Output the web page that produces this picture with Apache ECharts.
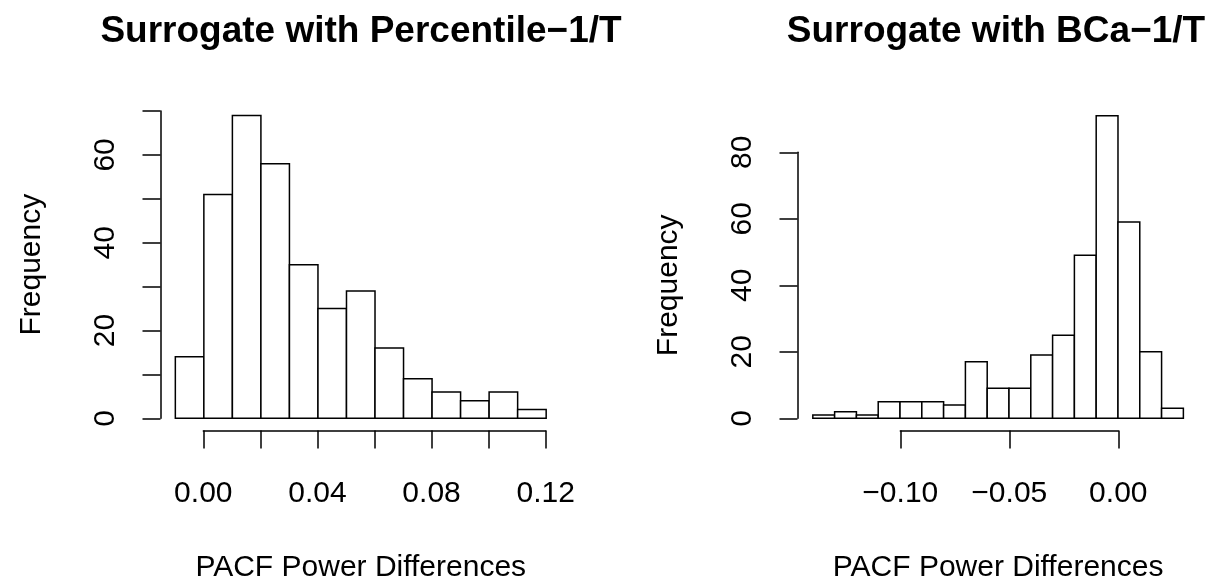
<!DOCTYPE html>
<html>
<head>
<meta charset="utf-8">
<script src="https://cdn.jsdelivr.net/npm/echarts@6/dist/echarts.min.js"></script>
<style>
  html, body { margin: 0; padding: 0; background: #fff; }
  #chart { width: 1216px; height: 583px; }
</style>
</head>
<body>
<div id="chart"></div>
<script>
// 直方图数据 (bin 边界 + 频数)
const leftTitle = 'Surrogate with Percentile\u22121/T';
const rightTitle = 'Surrogate with BCa\u22121/T';
const xName = 'PACF Power Differences';
const yName = 'Frequency';

const leftBreaks = [-0.01, 0.00, 0.01, 0.02, 0.03, 0.04, 0.05, 0.06, 0.07, 0.08, 0.09, 0.10, 0.11, 0.12];
const leftCounts = [14, 51, 69, 58, 35, 25, 29, 16, 9, 6, 4, 6, 2];

const rightBreaks = [-0.14, -0.13, -0.12, -0.11, -0.10, -0.09, -0.08, -0.07, -0.06, -0.05,
  -0.04, -0.03, -0.02, -0.01, 0.00, 0.01, 0.02, 0.03];
const rightCounts = [1, 2, 1, 5, 5, 5, 4, 17, 9, 9, 19, 25, 49, 91, 59, 20, 3];

// 刻度标签
const leftXLabels = ['0.00', '0.04', '0.08', '0.12'];
const leftYLabels = ['0', '20', '40', '60'];
const rightXLabels = ['\u22120.10', '\u22120.05', '0.00'];
const rightYLabels = ['0', '20', '40', '60', '80'];

const FONT = '"Liberation Sans", Arial, Helvetica, sans-serif';
const LW = 1.5;
const LABEL_SIZE = 30;

function fmtX(v) {
  const s = (Math.round(v * 100) / 100).toFixed(2);
  return s.charAt(0) === '-' ? '\u2212' + s.slice(1) : s;
}

function binData(breaks, counts) {
  return counts.map((c, i) => [breaks[i], breaks[i + 1], c]);
}

function renderBin(params, api) {
  const p0 = api.coord([api.value(0), api.value(2)]);
  const p1 = api.coord([api.value(1), 0]);
  return {
    type: 'rect',
    shape: { x: p0[0], y: p0[1], width: p1[0] - p0[0], height: p1[1] - p0[1] },
    style: { fill: '#fff', stroke: '#000', lineWidth: LW }
  };
}

const hiddenAxis = (i, min, max) => ({
  type: 'value', gridIndex: i, min: min, max: max, show: false
});

const axisLine = { show: true, lineStyle: { color: '#000', width: LW } };
const axisTick = { show: true, inside: false, length: 18, lineStyle: { color: '#000', width: LW } };
const labelText = { color: '#000', fontFamily: FONT, fontSize: LABEL_SIZE };

function xAxisVisible(i, min, max, interval, labels) {
  return {
    type: 'value', gridIndex: i, min: min, max: max, interval: interval,
    position: 'bottom',
    axisLine: axisLine, axisTick: axisTick, splitLine: { show: false },
    axisLabel: Object.assign({
      margin: 48,
      showMinLabel: true, showMaxLabel: true,
      formatter: v => labels.indexOf(fmtX(v)) >= 0 ? fmtX(v) : ''
    }, labelText)
  };
}

function yAxisVisible(i, min, max, interval, labels) {
  return {
    type: 'value', gridIndex: i, min: min, max: max, interval: interval,
    position: 'left',
    axisLine: axisLine, axisTick: axisTick, splitLine: { show: false },
    axisLabel: Object.assign({
      margin: 40, rotate: 90,
      showMinLabel: true, showMaxLabel: true,
      formatter: v => labels.indexOf(String(v)) >= 0 ? String(v) : ''
    }, labelText),
    name: yName, nameLocation: 'middle', nameGap: 114,
    nameTextStyle: { color: '#000', fontFamily: FONT, fontSize: LABEL_SIZE }
  };
}

function xAxisNameOnly(i, min, max) {
  return {
    type: 'value', gridIndex: i, min: min, max: max,
    axisLine: { show: false }, axisTick: { show: false },
    axisLabel: { show: false }, splitLine: { show: false },
    name: xName, nameLocation: 'middle', nameGap: 122,
    nameTextStyle: { color: '#000', fontFamily: FONT, fontSize: LABEL_SIZE }
  };
}

const gridBase = { outerBoundsMode: 'none', containLabel: false };

const option = {
  backgroundColor: '#fff',
  animation: false,
  title: [
    { text: leftTitle, left: 356, top: 8, textAlign: 'center',
      textStyle: { color: '#000', fontFamily: FONT, fontSize: 37, fontWeight: 'bold' } },
    { text: rightTitle, left: 991, top: 8, textAlign: 'center',
      textStyle: { color: '#000', fontFamily: FONT, fontSize: 37, fontWeight: 'bold' } }
  ],
  grid: [
    // 左图: 柱 / x 轴 / y 轴
    { left: 160.5, top: 103.3, width: 400.5, height: 327.1 },
    { left: 203.3, top: 429.4, width: 342.4, height: 1 },
    { left: 160.5, top: 111, width: 1, height: 307.3 },
    // 右图
    { left: 798, top: 103.6, width: 400.2, height: 326.8 },
    { left: 900.3, top: 429.4, width: 218, height: 1 },
    { left: 797.5, top: 152.3, width: 1, height: 266 }
  ].map(g => Object.assign({}, gridBase, g)),
  xAxis: [
    xAxisNameOnly(0, -0.0152, 0.1252),
    xAxisVisible(1, 0, 0.12, 0.02, leftXLabels),
    hiddenAxis(2, 0, 1),
    xAxisNameOnly(3, -0.1468, 0.0368),
    xAxisVisible(4, -0.1, 0, 0.05, rightXLabels),
    hiddenAxis(5, 0, 1)
  ],
  yAxis: [
    hiddenAxis(0, -2.76, 71.76),
    hiddenAxis(1, 0, 1),
    yAxisVisible(2, 0, 70, 10, leftYLabels),
    hiddenAxis(3, -3.64, 94.64),
    hiddenAxis(4, 0, 1),
    yAxisVisible(5, 0, 80, 20, rightYLabels)
  ],
  series: [
    { type: 'custom', xAxisIndex: 0, yAxisIndex: 0, renderItem: renderBin,
      encode: { x: [0, 1], y: 2 }, data: binData(leftBreaks, leftCounts) },
    { type: 'custom', xAxisIndex: 3, yAxisIndex: 3, renderItem: renderBin,
      encode: { x: [0, 1], y: 2 }, data: binData(rightBreaks, rightCounts) }
  ]
};

const chart = echarts.init(document.getElementById('chart'));
chart.setOption(option);
window.addEventListener('resize', () => chart.resize());
</script>
</body>
</html>
